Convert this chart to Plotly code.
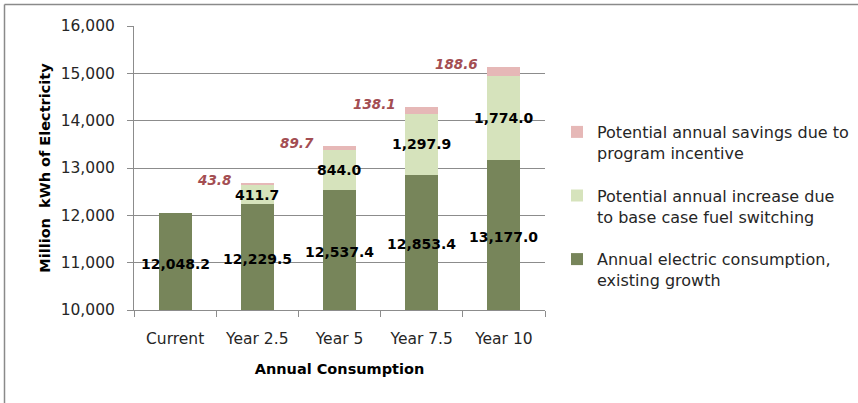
import plotly.graph_objects as go

# ---- data ----
categories = ["Current", "Year 2.5", "Year 5", "Year 7.5", "Year 10"]
existing = [12048.2, 12229.5, 12537.4, 12853.4, 13177.0]
fuel_switch = [None, 411.7, 844.0, 1297.9, 1774.0]
savings = [None, 43.8, 89.7, 138.1, 188.6]

series_names = [
    "Annual electric consumption,<br>existing growth",
    "Potential annual increase due<br>to base case fuel switching",
    "Potential annual savings due to<br>program incentive",
]
y_title = "Million  kWh of Electricity"
x_title = "Annual Consumption"

Y_MIN, Y_MAX, Y_STEP = 10000, 16000, 1000

# ---- style ----
FONT = "DejaVu Sans"
C_DARK = "#77855A"
C_LIGHT = "#D6E3BC"
C_PINK = "#E6B8B7"
C_PINKTXT = "#A34D52"
GRID = "#8C8C8C"
TXT = "#262626"

fig = go.Figure()
for rank, (name, vals, col) in zip([3, 2, 1], zip(series_names, [existing, fuel_switch, savings], [C_DARK, C_LIGHT, C_PINK])):
    fig.add_trace(go.Bar(
        x=categories, y=[v if v is not None else 0 for v in vals], name=name,
        marker=dict(color=col, line=dict(width=0)),
        legendgroup=name, legendrank=rank, hoverinfo="skip",
    ))

annotations = []
# existing-growth labels: centred in the visible part of the bar
for c, v in zip(categories, existing):
    annotations.append(dict(
        x=c, y=(Y_MIN + v) / 2, xref="x", yref="y", text=f"{v:,.1f}",
        showarrow=False, yshift=-2,
        font=dict(family=FONT, size=14, color="#000000", weight="bold"),
    ))
# fuel switching labels: centred in segment
for c, b, v in zip(categories, existing, fuel_switch):
    if v is None:
        continue
    annotations.append(dict(
        x=c, y=b + v / 2, xref="x", yref="y", text=f"{v:,.1f}",
        showarrow=False,
        font=dict(family=FONT, size=14, color="#000000", weight="bold"),
    ))
# savings labels: up-left of bar top
for c, b, f, v in zip(categories, existing, fuel_switch, savings):
    if v is None:
        continue
    annotations.append(dict(
        x=c, y=b + f + v, xref="x", yref="y", text=f"<i>{v:,.1f}</i>",
        showarrow=False, xanchor="right", yanchor="middle", xshift=-24, yshift=3,
        font=dict(family=FONT, size=13.5, color=C_PINKTXT, weight="bold"),
    ))

W, H = 858, 403
ML, MR, MT, MB = 134, 313, 26, 93
pw, ph = W - ML - MR, H - MT - MB

def px_x(p):
    return (p - ML) / pw

def px_y(p):
    return (H - MB - p) / ph

shapes = [
    dict(type="line", xref="paper", yref="paper", x0=px_x(4.5), x1=px_x(870), y0=px_y(4.5), y1=px_y(4.5),
         line=dict(color="#8A8A8A", width=1.5)),
    dict(type="line", xref="paper", yref="paper", x0=px_x(4.5), x1=px_x(4.5), y0=px_y(4.5), y1=px_y(410),
         line=dict(color="#8A8A8A", width=1.5)),
]

fig.update_layout(
    width=W, height=H,
    margin=dict(l=ML, r=MR, t=MT, b=MB, autoexpand=False),
    paper_bgcolor="white", plot_bgcolor="white",
    barmode="stack", bargap=0.6,
    font=dict(family=FONT, size=15.5, color=TXT),
    showlegend=True,
    legend=dict(
        x=px_x(557), y=px_y(115), xanchor="left", yanchor="top",
        traceorder="grouped", tracegroupgap=19, valign="top",
        font=dict(family=FONT, size=16, color=TXT),
        bgcolor="rgba(0,0,0,0)",
    ),
    xaxis=dict(
        type="category", showgrid=False, showline=True, linecolor=GRID, linewidth=1,
        ticks="outside", tickson="boundaries", ticklen=6, tickcolor=GRID,
        ticklabelstandoff=14,
        tickfont=dict(family=FONT, size=15.5, color=TXT),
        title=dict(text=x_title, font=dict(family=FONT, size=14.5, color="#000000", weight="bold"), standoff=17),
    ),
    yaxis=dict(
        range=[Y_MIN, Y_MAX], dtick=Y_STEP, tickformat=",",
        showgrid=True, gridcolor=GRID, gridwidth=1,
        showline=True, linecolor=GRID, linewidth=1,
        ticks="outside", ticklen=6, tickcolor=GRID,
        ticklabelstandoff=9,
        tickfont=dict(family=FONT, size=15.5, color=TXT),
        title=dict(text=y_title, font=dict(family=FONT, size=14.5, color="#000000", weight="bold"), standoff=6),
        zeroline=False,
    ),
    annotations=annotations,
    shapes=shapes,
)

fig.write_html("out.html", config={"displayModeBar": False},
               post_script="document.body.style.margin='0';")
